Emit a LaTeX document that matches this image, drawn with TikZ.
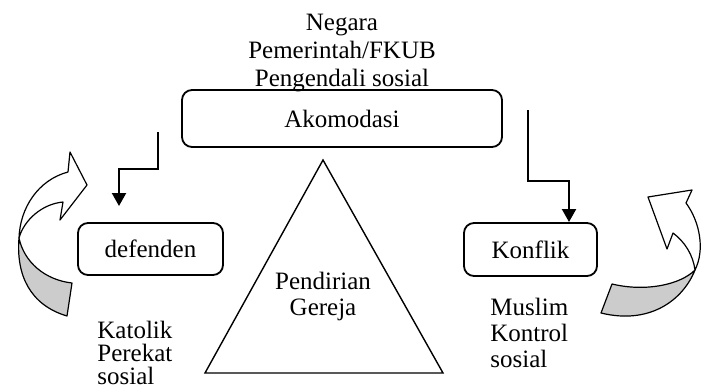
\documentclass[tikz,border=0pt]{standalone}
\usepackage{fontspec}
\setmainfont{Liberation Serif}
\usetikzlibrary{arrows.meta,positioning}

\begin{document}
\begin{tikzpicture}[
    x=0.5pt, y=-0.5pt,
    every node/.style={font=\fontsize{12.5}{14}\selectfont},
    block/.style={rectangle, draw, line width=0.9pt, rounded corners=5pt, inner sep=0pt, text centered},
    note/.style={inner sep=0pt, align=left, anchor=north west},
    arrow/.style={-{Triangle[length=6.5pt,width=7pt]}, line width=1.1pt},
    ribbon/.style={draw, line width=0.6pt, line join=round}
  ]
  \useasboundingbox (0,0) rectangle (710,390);

  % Boxes
  \node[block, minimum width=160pt, minimum height=28.5pt] (akomodasi) at (342,118.5) {Akomodasi};
  \node[block, minimum width=72.5pt, minimum height=26pt] (defenden) at (150.5,249) {defenden};
  \node[block, minimum width=66.5pt, minimum height=26.5pt] (konflik) at (530.5,249.5) {Konflik};

  % Texts
  \node[inner sep=0pt, align=center, above=-1.5pt of akomodasi] (negara) {Negara\\Pemerintah/FKUB\\Pengendali sosial};
  \node[note, font=\fontsize{12.5}{11.5}\selectfont] (katolik) at (97,321) {Katolik\\Perekat\\sosial};
  \node[note, font=\fontsize{12.5}{13}\selectfont] (muslim) at (490,298) {Muslim\\Kontrol\\sosial};

  % Triangle
  \coordinate (apex) at (323,160);
  \coordinate (baseL) at (205,373);
  \coordinate (baseR) at (443,373);
  \draw[line width=0.7pt] (baseL) -- (apex) -- (baseR) -- cycle;
  \node[inner sep=0pt, align=center, anchor=north, font=\fontsize{12.5}{13}\selectfont] (gereja) at (323,272) {Pendirian\\Gereja};

  % Arrows
  \coordinate (defin) at (158,132);
  \coordinate (defout) at (119,206);
  \coordinate (konin) at (528,110);
  \coordinate (konout) at (569,222);
  \draw[arrow] (defin) -- ++(0,37) -| (defout);
  \draw[arrow] (konin) -- ++(0,71) -| (konout);

  % Curved arrows
  \draw[ribbon, fill=white] (68,172) .. controls (38,180) and (20,208) .. (19,238)
    .. controls (24,220) and (42,204) .. (63,202) -- (60,220) -- (87,185) -- (70,152) -- cycle;
  \draw[ribbon, fill=black!20] (19,238) .. controls (16,275) and (30,305) .. (67,316)
    -- (72,283) .. controls (45,280) and (24,262) .. (19,238) -- cycle;
  \draw[ribbon, fill=white] (686,203) .. controls (700,222) and (705,250) .. (695,270)
    .. controls (693,255) and (685,242) .. (673,233) -- (667,249) -- (648,197) -- (692,190) -- cycle;
  \draw[ribbon, fill=black!20] (695,270) .. controls (683,300) and (650,325) .. (601,313)
    -- (612,284) .. controls (645,292) and (680,285) .. (695,270) -- cycle;
\end{tikzpicture}
\end{document}
